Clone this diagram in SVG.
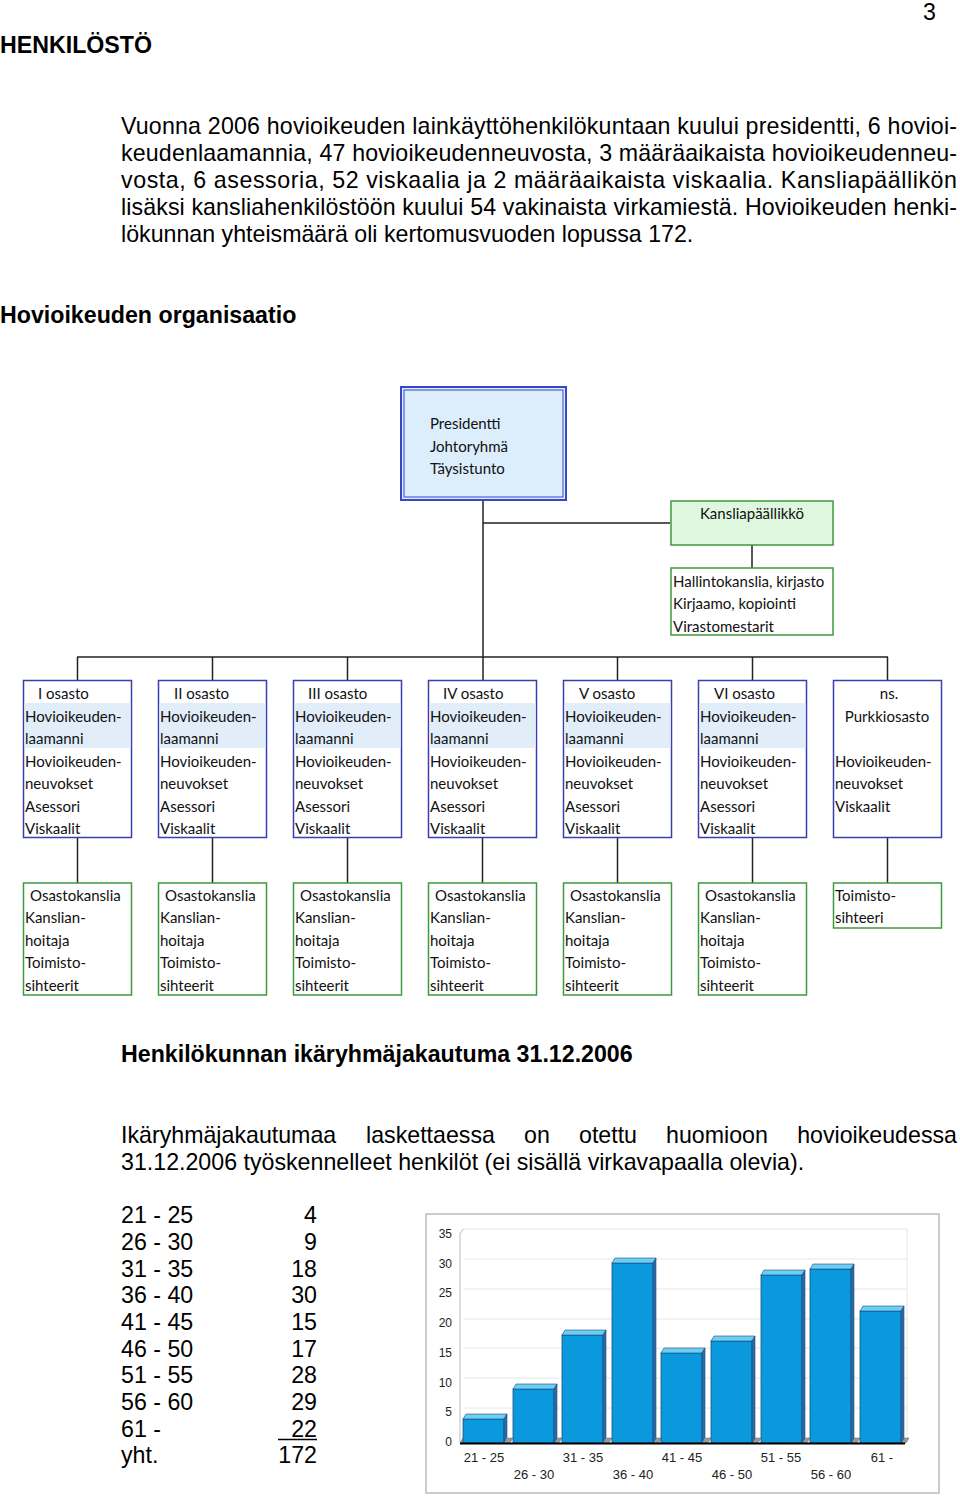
<svg xmlns="http://www.w3.org/2000/svg" width="960" height="1496" viewBox="0 0 960 1496">
<style>
.body{font-family:"Liberation Sans",Arial,sans-serif;font-size:23.2px;fill:#000}
.bold{font-family:"Liberation Sans",Arial,sans-serif;font-size:23.2px;font-weight:bold;fill:#000}
.org{font-family:Lato,"Open Sans",sans-serif;font-size:15px;fill:#111}
.blue{fill:#fff;stroke:#3b3fae;stroke-width:1.5}
.green{fill:#fff;stroke:#3e9a3e;stroke-width:1.5}
.band{fill:#e1eefa}
.conn line{stroke:#222;stroke-width:1.5}
.ax{font-family:"Liberation Sans",Arial,sans-serif;font-size:12px;fill:#222}
.xl{font-family:"Liberation Sans",Arial,sans-serif;font-size:13px;fill:#222;text-anchor:middle}
.grid{stroke:#e6e6e6;stroke-width:1}
.front{fill:#0999dc;stroke:#1a4f80;stroke-width:0.8}
.top{fill:#6dcdf2;stroke:#1a4f80;stroke-width:0.6}
.side{fill:#2f6aa6;stroke:#1a4f80;stroke-width:0.6}
.tab{fill:#999;stroke:#666;stroke-width:0.5}
</style>

<text x="936" y="20" class="body" text-anchor="end">3</text>
<text x="0" y="53" class="bold">HENKILÖSTÖ</text>

<g id="intro">
<text x="121" y="134" class="body" textLength="836" lengthAdjust="spacing">Vuonna 2006 hovioikeuden lainkäyttöhenkilökuntaan kuului presidentti, 6 hovioi-</text>
<text x="121" y="161" class="body" textLength="836" lengthAdjust="spacing">keudenlaamannia, 47 hovioikeudenneuvosta, 3 määräaikaista hovioikeudenneu-</text>
<text x="121" y="188" class="body" textLength="836" lengthAdjust="spacing">vosta, 6 asessoria, 52 viskaalia ja 2 määräaikaista viskaalia. Kansliapäällikön</text>
<text x="121" y="215" class="body" textLength="836" lengthAdjust="spacing">lisäksi kansliahenkilöstöön kuului 54 vakinaista virkamiestä. Hovioikeuden henki-</text>
<text x="121" y="242" class="body">lökunnan yhteismäärä oli kertomusvuoden lopussa 172.</text>
</g>

<text x="0" y="323" class="bold">Hovioikeuden organisaatio</text>

<g id="connectors" class="conn">
<line x1="483" y1="501" x2="483" y2="657"/>
<line x1="483" y1="523" x2="670" y2="523"/>
<line x1="752" y1="545" x2="752" y2="568"/>
<line x1="77" y1="657" x2="888" y2="657"/>
<line x1="77.5" y1="657" x2="77.5" y2="680"/>
<line x1="212.5" y1="657" x2="212.5" y2="680"/>
<line x1="347.5" y1="657" x2="347.5" y2="680"/>
<line x1="483" y1="657" x2="483" y2="680"/>
<line x1="617.5" y1="657" x2="617.5" y2="680"/>
<line x1="752.5" y1="657" x2="752.5" y2="680"/>
<line x1="887.5" y1="657" x2="887.5" y2="680"/>
<line x1="77.5" y1="838" x2="77.5" y2="883"/>
<line x1="212.5" y1="838" x2="212.5" y2="883"/>
<line x1="347.5" y1="838" x2="347.5" y2="883"/>
<line x1="482.5" y1="838" x2="482.5" y2="883"/>
<line x1="617.5" y1="838" x2="617.5" y2="883"/>
<line x1="752.5" y1="838" x2="752.5" y2="883"/>
<line x1="887.5" y1="838" x2="887.5" y2="883"/>
</g>

<g id="presidentti">
<rect x="401" y="387" width="165" height="113" fill="#dcedfc" stroke="#3547c8" stroke-width="2"/>
<rect x="404" y="390" width="159" height="107" fill="none" stroke="#3547c8" stroke-width="1"/>
<text class="org" x="430" y="429">Presidentti</text>
<text class="org" x="430" y="452">Johtoryhmä</text>
<text class="org" x="430" y="474">Täysistunto</text>
</g>

<g id="kansliapaallikko">
<rect x="671" y="501" width="162" height="44" fill="#dff7df" stroke="#3e9a3e" stroke-width="1.5"/>
<text class="org" x="752" y="519" text-anchor="middle">Kansliapäällikkö</text>
</g>

<g id="hallintokanslia">
<rect x="671" y="568" width="162" height="67" class="green"/>
<text class="org" x="673" y="587">Hallintokanslia, kirjasto</text>
<text class="org" x="673" y="609">Kirjaamo, kopiointi</text>
<text class="org" x="673" y="632">Virastomestarit</text>
</g>

<g id="osasto1">
<rect x="23.5" y="680.5" width="108" height="157" class="blue"/>
<rect x="24.5" y="703" width="106" height="45" class="band"/>
<text class="org" x="38" y="699">I osasto</text>
<text class="org" x="25" y="722">Hovioikeuden-</text>
<text class="org" x="25" y="744">laamanni</text>
<text class="org" x="25" y="767">Hovioikeuden-</text>
<text class="org" x="25" y="789">neuvokset</text>
<text class="org" x="25" y="812">Asessori</text>
<text class="org" x="25" y="834">Viskaalit</text>
</g>
<g id="osasto2">
<rect x="158.5" y="680.5" width="108" height="157" class="blue"/>
<rect x="159.5" y="703" width="106" height="45" class="band"/>
<text class="org" x="174" y="699">II osasto</text>
<text class="org" x="160" y="722">Hovioikeuden-</text>
<text class="org" x="160" y="744">laamanni</text>
<text class="org" x="160" y="767">Hovioikeuden-</text>
<text class="org" x="160" y="789">neuvokset</text>
<text class="org" x="160" y="812">Asessori</text>
<text class="org" x="160" y="834">Viskaalit</text>
</g>
<g id="osasto3">
<rect x="293.5" y="680.5" width="108" height="157" class="blue"/>
<rect x="294.5" y="703" width="106" height="45" class="band"/>
<text class="org" x="308" y="699">III osasto</text>
<text class="org" x="295" y="722">Hovioikeuden-</text>
<text class="org" x="295" y="744">laamanni</text>
<text class="org" x="295" y="767">Hovioikeuden-</text>
<text class="org" x="295" y="789">neuvokset</text>
<text class="org" x="295" y="812">Asessori</text>
<text class="org" x="295" y="834">Viskaalit</text>
</g>
<g id="osasto4">
<rect x="428.5" y="680.5" width="108" height="157" class="blue"/>
<rect x="429.5" y="703" width="106" height="45" class="band"/>
<text class="org" x="443" y="699">IV osasto</text>
<text class="org" x="430" y="722">Hovioikeuden-</text>
<text class="org" x="430" y="744">laamanni</text>
<text class="org" x="430" y="767">Hovioikeuden-</text>
<text class="org" x="430" y="789">neuvokset</text>
<text class="org" x="430" y="812">Asessori</text>
<text class="org" x="430" y="834">Viskaalit</text>
</g>
<g id="osasto5">
<rect x="563.5" y="680.5" width="108" height="157" class="blue"/>
<rect x="564.5" y="703" width="106" height="45" class="band"/>
<text class="org" x="579" y="699">V osasto</text>
<text class="org" x="565" y="722">Hovioikeuden-</text>
<text class="org" x="565" y="744">laamanni</text>
<text class="org" x="565" y="767">Hovioikeuden-</text>
<text class="org" x="565" y="789">neuvokset</text>
<text class="org" x="565" y="812">Asessori</text>
<text class="org" x="565" y="834">Viskaalit</text>
</g>
<g id="osasto6">
<rect x="698.5" y="680.5" width="108" height="157" class="blue"/>
<rect x="699.5" y="703" width="106" height="45" class="band"/>
<text class="org" x="714" y="699">VI osasto</text>
<text class="org" x="700" y="722">Hovioikeuden-</text>
<text class="org" x="700" y="744">laamanni</text>
<text class="org" x="700" y="767">Hovioikeuden-</text>
<text class="org" x="700" y="789">neuvokset</text>
<text class="org" x="700" y="812">Asessori</text>
<text class="org" x="700" y="834">Viskaalit</text>
</g>
<g id="purkkiosasto">
<rect x="833.5" y="680.5" width="108" height="157" class="blue"/>
<text class="org" x="889" y="699" text-anchor="middle">ns.</text>
<text class="org" x="887" y="722" text-anchor="middle">Purkkiosasto</text>
<text class="org" x="835" y="767">Hovioikeuden-</text>
<text class="org" x="835" y="789">neuvokset</text>
<text class="org" x="835" y="812">Viskaalit</text>
</g>

<g id="kanslia1">
<rect x="23.5" y="883" width="108" height="112" class="green"/>
<text class="org" x="30" y="901">Osastokanslia</text>
<text class="org" x="25" y="923">Kanslian-</text>
<text class="org" x="25" y="946">hoitaja</text>
<text class="org" x="25" y="968">Toimisto-</text>
<text class="org" x="25" y="991">sihteerit</text>
</g>
<g id="kanslia2">
<rect x="158.5" y="883" width="108" height="112" class="green"/>
<text class="org" x="165" y="901">Osastokanslia</text>
<text class="org" x="160" y="923">Kanslian-</text>
<text class="org" x="160" y="946">hoitaja</text>
<text class="org" x="160" y="968">Toimisto-</text>
<text class="org" x="160" y="991">sihteerit</text>
</g>
<g id="kanslia3">
<rect x="293.5" y="883" width="108" height="112" class="green"/>
<text class="org" x="300" y="901">Osastokanslia</text>
<text class="org" x="295" y="923">Kanslian-</text>
<text class="org" x="295" y="946">hoitaja</text>
<text class="org" x="295" y="968">Toimisto-</text>
<text class="org" x="295" y="991">sihteerit</text>
</g>
<g id="kanslia4">
<rect x="428.5" y="883" width="108" height="112" class="green"/>
<text class="org" x="435" y="901">Osastokanslia</text>
<text class="org" x="430" y="923">Kanslian-</text>
<text class="org" x="430" y="946">hoitaja</text>
<text class="org" x="430" y="968">Toimisto-</text>
<text class="org" x="430" y="991">sihteerit</text>
</g>
<g id="kanslia5">
<rect x="563.5" y="883" width="108" height="112" class="green"/>
<text class="org" x="570" y="901">Osastokanslia</text>
<text class="org" x="565" y="923">Kanslian-</text>
<text class="org" x="565" y="946">hoitaja</text>
<text class="org" x="565" y="968">Toimisto-</text>
<text class="org" x="565" y="991">sihteerit</text>
</g>
<g id="kanslia6">
<rect x="698.5" y="883" width="108" height="112" class="green"/>
<text class="org" x="705" y="901">Osastokanslia</text>
<text class="org" x="700" y="923">Kanslian-</text>
<text class="org" x="700" y="946">hoitaja</text>
<text class="org" x="700" y="968">Toimisto-</text>
<text class="org" x="700" y="991">sihteerit</text>
</g>
<g id="toimistosihteeri">
<rect x="833.5" y="883" width="108" height="45" class="green"/>
<text class="org" x="835" y="901">Toimisto-</text>
<text class="org" x="835" y="923">sihteeri</text>
</g>

<text x="121" y="1062" class="bold">Henkilökunnan ikäryhmäjakautuma 31.12.2006</text>

<g id="para2" class="body">
<text x="121" y="1143">Ikäryhmäjakautumaa</text>
<text x="366" y="1143">laskettaessa</text>
<text x="524" y="1143">on</text>
<text x="579" y="1143">otettu</text>
<text x="666" y="1143">huomioon</text>
<text x="957" y="1143" text-anchor="end">hovioikeudessa</text>
<text x="121" y="1170">31.12.2006 työskennelleet henkilöt (ei sisällä virkavapaalla olevia).</text>
</g>

<g id="table" class="body">
<text x="121" y="1223">21 - 25</text><text x="317" y="1223" text-anchor="end">4</text>
<text x="121" y="1250">26 - 30</text><text x="317" y="1250" text-anchor="end">9</text>
<text x="121" y="1277">31 - 35</text><text x="317" y="1277" text-anchor="end">18</text>
<text x="121" y="1303">36 - 40</text><text x="317" y="1303" text-anchor="end">30</text>
<text x="121" y="1330">41 - 45</text><text x="317" y="1330" text-anchor="end">15</text>
<text x="121" y="1357">46 - 50</text><text x="317" y="1357" text-anchor="end">17</text>
<text x="121" y="1383">51 - 55</text><text x="317" y="1383" text-anchor="end">28</text>
<text x="121" y="1410">56 - 60</text><text x="317" y="1410" text-anchor="end">29</text>
<text x="121" y="1437">61 -</text><text x="317" y="1437" text-anchor="end">22</text>
<line x1="278" y1="1439.5" x2="317" y2="1439.5" stroke="#000" stroke-width="1.5"/>
<text x="121" y="1463">yht.</text><text x="317" y="1463" text-anchor="end">172</text>
</g>

<g id="chart">
<rect x="426" y="1214" width="513" height="279" fill="#fff" stroke="#bbb" stroke-width="1.5"/>
<line class="grid" x1="463" y1="1229" x2="907" y2="1229"/>
<line class="grid" x1="463" y1="1259" x2="907" y2="1259"/>
<line class="grid" x1="463" y1="1289" x2="907" y2="1289"/>
<line class="grid" x1="463" y1="1319" x2="907" y2="1319"/>
<line class="grid" x1="463" y1="1348" x2="907" y2="1348"/>
<line class="grid" x1="463" y1="1378" x2="907" y2="1378"/>
<line class="grid" x1="463" y1="1408" x2="907" y2="1408"/>
<line x1="907" y1="1229" x2="907" y2="1438" stroke="#e6e6e6"/>
<polyline points="463,1229 460,1234 460,1443" fill="none" stroke="#bbb" stroke-width="1"/>
<text class="ax" x="452" y="1238" text-anchor="end">35</text>
<text class="ax" x="452" y="1268" text-anchor="end">30</text>
<text class="ax" x="452" y="1297" text-anchor="end">25</text>
<text class="ax" x="452" y="1327" text-anchor="end">20</text>
<text class="ax" x="452" y="1357" text-anchor="end">15</text>
<text class="ax" x="452" y="1387" text-anchor="end">10</text>
<text class="ax" x="452" y="1416" text-anchor="end">5</text>
<text class="ax" x="452" y="1446" text-anchor="end">0</text>
<g>
<polygon class="tab" points="460,1443 463,1438 468,1438 465,1443"/>
<polygon class="tab" points="505,1443 508,1438 513,1438 510,1443"/>
<polygon class="tab" points="554,1443 557,1438 562,1438 559,1443"/>
<polygon class="tab" points="604,1443 607,1438 612,1438 609,1443"/>
<polygon class="tab" points="653,1443 656,1438 662,1438 659,1443"/>
<polygon class="tab" points="703,1443 706,1438 711,1438 708,1443"/>
<polygon class="tab" points="752,1443 755,1438 761,1438 758,1443"/>
<polygon class="tab" points="802,1443 805,1438 810,1438 807,1443"/>
<polygon class="tab" points="851,1443 854,1438 860,1438 857,1443"/>
<polygon class="tab" points="901,1443 904,1438 909,1438 906,1443"/>
</g>
<g id="bars">
<rect class="front" x="463" y="1419" width="41" height="24"/>
<polygon class="top" points="463,1419 466,1414 507,1414 504,1419"/>
<polygon class="side" points="504,1419 507,1414 507,1438 504,1443"/>

<rect class="front" x="513" y="1389" width="41" height="54"/>
<polygon class="top" points="513,1389 516,1384 557,1384 554,1389"/>
<polygon class="side" points="554,1389 557,1384 557,1438 554,1443"/>

<rect class="front" x="562" y="1335" width="41" height="108"/>
<polygon class="top" points="562,1335 565,1330 606,1330 603,1335"/>
<polygon class="side" points="603,1335 606,1330 606,1438 603,1443"/>

<rect class="front" x="612" y="1263" width="41" height="180"/>
<polygon class="top" points="612,1263 615,1258 656,1258 653,1263"/>
<polygon class="side" points="653,1263 656,1258 656,1438 653,1443"/>

<rect class="front" x="661" y="1353" width="41" height="90"/>
<polygon class="top" points="661,1353 664,1348 705,1348 702,1353"/>
<polygon class="side" points="702,1353 705,1348 705,1438 702,1443"/>

<rect class="front" x="711" y="1341" width="41" height="102"/>
<polygon class="top" points="711,1341 714,1336 755,1336 752,1341"/>
<polygon class="side" points="752,1341 755,1336 755,1438 752,1443"/>

<rect class="front" x="761" y="1275" width="41" height="168"/>
<polygon class="top" points="761,1275 764,1270 805,1270 802,1275"/>
<polygon class="side" points="802,1275 805,1270 805,1438 802,1443"/>

<rect class="front" x="810" y="1269" width="41" height="174"/>
<polygon class="top" points="810,1269 813,1264 854,1264 851,1269"/>
<polygon class="side" points="851,1269 854,1264 854,1438 851,1443"/>

<rect class="front" x="860" y="1311" width="41" height="132"/>
<polygon class="top" points="860,1311 863,1306 904,1306 901,1311"/>
<polygon class="side" points="901,1311 904,1306 904,1438 901,1443"/>
</g>
<line x1="460" y1="1443.5" x2="905" y2="1443.5" stroke="#000" stroke-width="2"/>
<text class="xl" x="484" y="1462">21 - 25</text>
<text class="xl" x="534" y="1479">26 - 30</text>
<text class="xl" x="583" y="1462">31 - 35</text>
<text class="xl" x="633" y="1479">36 - 40</text>
<text class="xl" x="682" y="1462">41 - 45</text>
<text class="xl" x="732" y="1479">46 - 50</text>
<text class="xl" x="781" y="1462">51 - 55</text>
<text class="xl" x="831" y="1479">56 - 60</text>
<text class="xl" x="882" y="1462">61 -</text>
</g>
</svg>
